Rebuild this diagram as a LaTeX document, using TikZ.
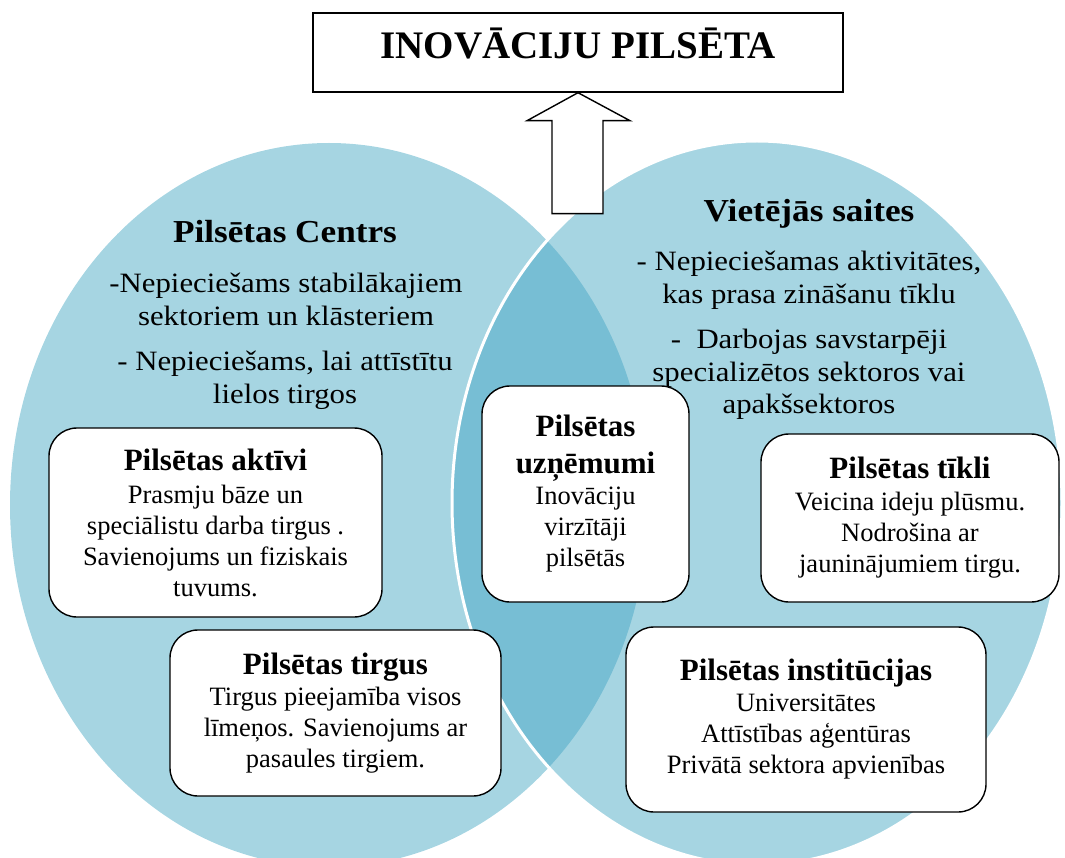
\documentclass[tikz,border=0pt]{standalone}
\usepackage{fontspec}
\setmainfont{Liberation Serif}
\newfontfamily\widefont[FakeStretch=1.1]{Liberation Serif}

\definecolor{vennlight}{RGB}{166,213,226}
\definecolor{venndark}{RGB}{119,190,212}

\tikzset{
  titlebox/.style={draw, line width=1.4pt, fill=white, inner sep=0pt,
    minimum width=530pt, text height=46pt, text depth=33pt,
    font=\bfseries\fontsize{39}{44}\selectfont},
  infobox/.style={draw, line width=1.4pt, rounded corners=28pt, fill=white,
    align=center, inner sep=0pt, font=\fontsize{26.5}{31}\selectfont},
  cirhead/.style={anchor=base, inner sep=0pt,
    font=\widefont\bfseries\fontsize{32}{36}\selectfont},
  cirtext/.style={anchor=north, align=center, inner sep=0pt,
    font=\widefont\fontsize{28}{32.5}\selectfont},
}
\newcommand{\boxhead}[1]{{\bfseries\fontsize{31}{36}\selectfont #1}}

\begin{document}
\begin{tikzpicture}[x=1pt,y=-1pt]
  \useasboundingbox (0,0) rectangle (1065,858);

  %% the two circles
  \begin{scope}
    \clip (0,0) rectangle (1065,858);
    \fill[vennlight] (329,505) ellipse [x radius=319pt, y radius=362pt];
    \fill[vennlight] (757,503) ellipse [x radius=305pt, y radius=362pt];
    \begin{scope}
      \clip (329,505) ellipse [x radius=319pt, y radius=362pt];
      \fill[venndark] (757,503) ellipse [x radius=305pt, y radius=362pt];
    \end{scope}
    \draw[white, line width=3pt] (757,503) ellipse [x radius=305pt, y radius=362pt];
  \end{scope}

  %% title and arrow
  \node[titlebox] (title) at (578,52.5) {INOVĀCIJU PILSĒTA};
  \draw[line width=1.4pt, fill=white] (title.south) -- ++(52,28) -- ++(-27,0)
    -- ++(0,93) -- ++(-51,0) -- ++(0,-93) -- ++(-25,0) -- cycle;

  %% left circle
  \node[cirhead] (centrs) at (285,243) {Pilsētas Centrs};
  \node[cirtext] (centrsA) at (286,273) {-Nepieciešams stabilākajiem\\sektoriem un klāsteriem};
  \node[cirtext] (centrsB) at (285,351) {- Nepieciešams, lai attīstītu\\lielos tirgos};

  %% right circle
  \node[cirhead] (saites) at (809,222) {Vietējās saites};
  \node[cirtext] (saitesA) at (809,251) {- Nepieciešamas aktivitātes,\\kas prasa zināšanu tīklu};
  \node[cirtext] (saitesB) at (809,329) {-\ \ Darbojas savstarpēji\\specializētos sektoros vai\\apakšsektoros};

  %% boxes
  \node[infobox, minimum width=333pt, minimum height=189pt] (aktivi) at (215.5,522.5)
    {\boxhead{Pilsētas aktīvi}\\[2pt]Prasmju bāze un\\speciālistu darba tirgus .\\Savienojums un fiziskais\\tuvums.};
  \node[infobox, minimum width=331pt, minimum height=166pt] (tirgus) at (335.5,713)
    {\boxhead{Pilsētas tirgus}\\Tirgus pieejamība visos\\līmeņos. Savienojums ar\\pasaules tirgiem.};
  \node[infobox, minimum width=207pt, minimum height=216pt] (uznemumi) at (585.5,494)
    {\boxhead{Pilsētas}\\[6pt]\boxhead{uzņēmumi}\\Inovāciju\\virzītāji\\pilsētās};
  \node[infobox, minimum width=298pt, minimum height=168pt] (tikli) at (910,518)
    {\boxhead{Pilsētas tīkli}\\[1pt]Veicina ideju plūsmu.\\Nodrošina ar\\jauninājumiem tirgu.};
  \node[infobox, minimum width=360pt, minimum height=185pt] (instit) at (806,719.5)
    {\boxhead{Pilsētas institūcijas}\\Universitātes\\Attīstības aģentūras\\Privātā sektora apvienības};
\end{tikzpicture}
\end{document}
